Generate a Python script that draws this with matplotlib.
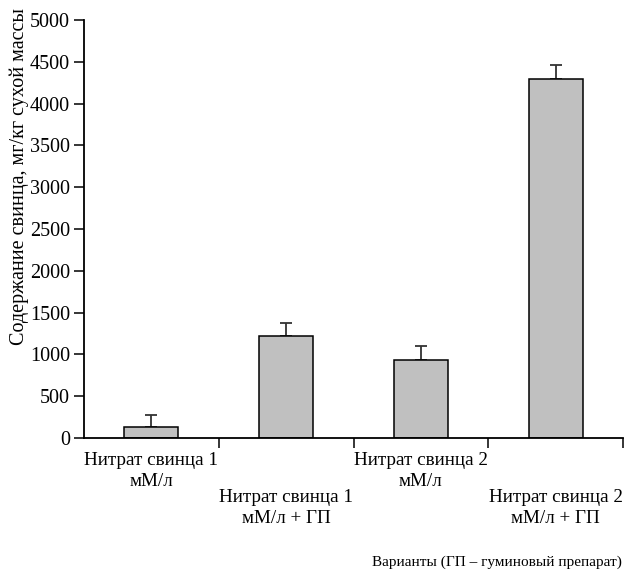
import matplotlib
matplotlib.use("Agg")
import matplotlib.pyplot as plt
from matplotlib.transforms import blended_transform_factory

# Lead content per treatment (mg/kg dry mass) with upper error bars
categories = [
    "Нитрат свинца 1\nмМ/л",
    "Нитрат свинца 1\nмМ/л + ГП",
    "Нитрат свинца 2\nмМ/л",
    "Нитрат свинца 2\nмМ/л + ГП",
]
values = [130, 1220, 935, 4300]
errors = [140, 150, 170, 160]
yticks = list(range(0, 5001, 500))

plt.rcParams["font.family"] = ["Liberation Serif", "DejaVu Serif"]

fig = plt.figure(figsize=(6.24, 5.70), dpi=100)
ax = fig.add_axes([84 / 624, 1 - 438 / 570, (623 - 84) / 624, 418 / 570])

x = list(range(len(categories)))
ax.bar(x, values, width=0.4, color="#c0c0c0", edgecolor="black", linewidth=1.1,
       zorder=2)
ax.errorbar(x, values, yerr=[[0] * len(values), errors], fmt="none",
            ecolor="#333333", elinewidth=1.3, capsize=4, capthick=1.3, zorder=1)

ax.set_xlim(-0.5, len(categories) - 0.5)
ax.set_ylim(0, 5000)
ax.set_yticks(yticks)
ax.set_xticks([i + 0.5 for i in x])
ax.set_xticklabels([])
ax.tick_params(axis="both", direction="out", length=7, width=1.1, colors="black",
               labelsize=14.5, pad=3)
for side in ("top", "right"):
    ax.spines[side].set_visible(False)
for side in ("left", "bottom"):
    ax.spines[side].set_linewidth(1.3)

# staggered category labels under the axis
trans = blended_transform_factory(ax.transData, fig.transFigure)
for i, label in enumerate(categories):
    top = 452 if i % 2 == 0 else 489
    ax.text(i, 1 - top / 570, label, transform=trans, ha="center", va="top",
            fontsize=13.8, linespacing=1.3)

fig.text(622 / 624, 1 - 562 / 570, "Варианты (ГП – гуминовый препарат)",
         ha="right", va="center", fontsize=11)
fig.text(19 / 624, 1 - 176 / 570, "Содержание свинца, мг/кг сухой массы",
         rotation=90, ha="center", va="center", fontsize=14.5)

fig.savefig("out.png", dpi=100)
